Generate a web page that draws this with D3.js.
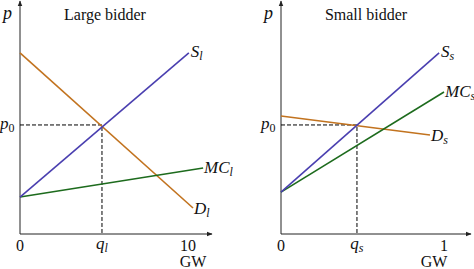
<!DOCTYPE html>
<html>
<head>
<meta charset="utf-8">
<script src="https://cdn.jsdelivr.net/npm/d3@7"></script>
<style>
  body { margin: 0; background: #fff; }
  text { font-family: "Liberation Serif", "Times New Roman", serif; fill: #111; }
</style>
</head>
<body>
<div id="chart-area"></div>
<script>
const width = 474, height = 269;

// Large bidder (x in GW, p in arbitrary units)
const largeSupply = [[0, 1.58], [10.05, 7.74]];
const largeDemand = [[0, 7.74], [10.3, 1.11]];
const largeMC = [[0, 1.58], [10.9, 2.82]];
const largeEq = { q: 4.88, p: 4.66 };

// Small bidder
const smallSupply = [[0, 1.79], [0.97, 7.74]];
const smallDemand = [[0, 5.04], [0.914, 4.23]];
const smallMC = [[0, 1.79], [1.0, 6.07]];
const smallEq = { q: 0.466, p: 4.66 };

const colors = { supply: "#4a3fb0", demand: "#c2731f", mc: "#1d6b1d" };

const svg = d3.select("#chart-area")
  .append("svg")
  .attr("width", width)
  .attr("height", height);

const defs = svg.append("defs");
defs.append("marker")
  .attr("id", "arrow")
  .attr("viewBox", "0 0 10 10")
  .attr("refX", 9).attr("refY", 5)
  .attr("markerWidth", 6).attr("markerHeight", 6)
  .attr("markerUnits", "userSpaceOnUse")
  .attr("orient", "auto")
  .append("path")
  .attr("d", "M0,1 L10,5 L0,9 Z")
  .attr("fill", "#222");

function panel(cfg) {
  const x = d3.scaleLinear().domain([0, cfg.xMax]).range([cfg.x0, cfg.x1]);
  const y = d3.scaleLinear().domain([0, 10]).range([234, 0]);
  const g = svg.append("g");

  // axes with arrows
  g.append("line")
    .attr("x1", x(0)).attr("y1", y(0))
    .attr("x2", x(0)).attr("y2", 1)
    .attr("stroke", "#222").attr("stroke-width", 1)
    .attr("marker-end", "url(#arrow)");
  g.append("line")
    .attr("x1", x(0)).attr("y1", y(0))
    .attr("x2", cfg.axisEnd).attr("y2", y(0))
    .attr("stroke", "#222").attr("stroke-width", 1)
    .attr("marker-end", "url(#arrow)");

  // dashed guides
  g.append("path")
    .attr("d", `M${x(0)},${y(cfg.eq.p)}H${x(cfg.eq.q)}V${y(0)}`)
    .attr("fill", "none")
    .attr("stroke", "#000").attr("stroke-width", 1)
    .attr("stroke-dasharray", "4,2");

  const line = d3.line().x(d => x(d[0])).y(d => y(d[1]));
  [["demand", cfg.demand], ["mc", cfg.mc], ["supply", cfg.supply]].forEach(([k, pts]) => {
    g.append("path")
      .attr("d", line(pts))
      .attr("fill", "none")
      .attr("stroke", colors[k])
      .attr("stroke-width", 1.6);
  });

  // tick labels
  g.append("text").attr("x", x(0)).attr("y", 251)
    .attr("text-anchor", "middle").attr("font-size", 16).text("0");
  g.append("text").attr("x", x(cfg.tick)).attr("y", 251)
    .attr("text-anchor", "middle").attr("font-size", 16).text(cfg.tickLabel);
  g.append("text").attr("x", cfg.gwX).attr("y", 267)
    .attr("text-anchor", "middle").attr("font-size", 16).text("GW");

  // q label
  const q = g.append("text").attr("x", x(cfg.eq.q)).attr("y", 249)
    .attr("text-anchor", "middle").attr("font-size", 17).attr("font-style", "italic");
  q.append("tspan").text("q");
  q.append("tspan").attr("font-size", 12).attr("dy", 3).text(cfg.sub);

  // p and p0
  g.append("text").attr("x", x(0) - 17).attr("y", 19)
    .attr("font-size", 18).attr("font-style", "italic").text("p");
  const p0 = g.append("text").attr("x", x(0) - 20).attr("y", y(cfg.eq.p) + 4)
    .attr("font-size", 17).attr("font-style", "italic");
  p0.append("tspan").text("p");
  p0.append("tspan").attr("font-size", 12).attr("dy", 3).attr("font-style", "normal").text("0");

  // title
  g.append("text").attr("x", cfg.titleX).attr("y", 20)
    .attr("text-anchor", "middle").attr("font-size", 16).text(cfg.title);

  // curve labels
  function curveLabel(pts, name, dx, dy) {
    const end = pts[pts.length - 1];
    const t = g.append("text").attr("x", x(end[0]) + dx).attr("y", y(end[1]) + dy)
      .attr("font-size", 17).attr("font-style", "italic");
    t.append("tspan").text(name);
    t.append("tspan").attr("font-size", 12).attr("dy", 3).text(cfg.sub);
  }
  curveLabel(cfg.supply, "S", 2, 4);
  curveLabel(cfg.mc, "MC", 1, 5);
  curveLabel(cfg.demand, "D", 1, 6);
}

panel({
  x0: 20, x1: 188, xMax: 10, axisEnd: 212, tick: 10, tickLabel: "10",
  gwX: 193, titleX: 105, title: "Large bidder", sub: "l",
  supply: largeSupply, demand: largeDemand, mc: largeMC, eq: largeEq
});

panel({
  x0: 281, x1: 444, xMax: 1, axisEnd: 471, tick: 1, tickLabel: "1",
  gwX: 434, titleX: 366, title: "Small bidder", sub: "s",
  supply: smallSupply, demand: smallDemand, mc: smallMC, eq: smallEq
});
</script>
</body>
</html>
